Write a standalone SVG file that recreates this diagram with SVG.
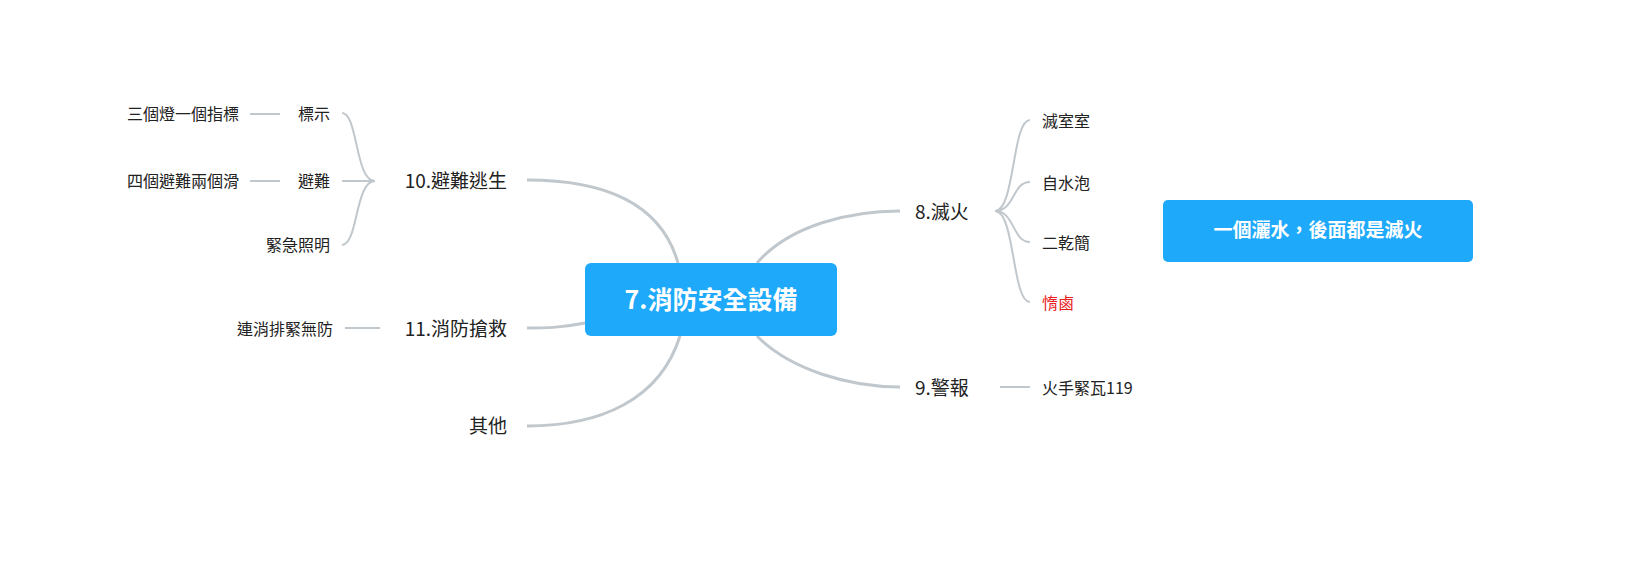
<svg xmlns="http://www.w3.org/2000/svg" width="1645" height="573" viewBox="0 0 1645 573">
<style>
text{font-family:"Noto Sans CJK TC","Noto Sans CJK SC",sans-serif;fill:#222}
.m{stroke:#c1c8cd;stroke-width:3;fill:none}
.s{stroke:#c1c8cd;stroke-width:2;fill:none}
.t1{font-size:19px}
.t2{font-size:16px}
.r{text-anchor:end}
.w{fill:#fff;font-weight:bold;text-anchor:middle}
</style>
<rect width="1645" height="573" fill="#fff"/>
<g id="connectors">
<path class="m" d="M678,263 C660,200 600,180 527,180"/>
<path class="m" d="M585,323 C560,328 545,328 527,328"/>
<path class="m" d="M680,336 C660,400 600,426 527,426"/>
<path class="m" d="M757,263 C790,225 850,211 900,211"/>
<path class="m" d="M757,336 C790,370 850,387 900,387"/>
<path class="s" d="M375,181 C355,181 358,113 342,113"/>
<path class="s" d="M375,181 L342,181"/>
<path class="s" d="M375,181 C355,181 358,245 342,245"/>
<path class="s" d="M250,114 H280 M250,181 H280"/>
<path class="s" d="M345,328 H380"/>
<path class="s" d="M995,211 C1015,211 1012,120 1030,120"/>
<path class="s" d="M995,211 C1015,211 1012,182 1030,182"/>
<path class="s" d="M995,211 C1015,211 1012,242 1030,242"/>
<path class="s" d="M995,211 C1015,211 1012,302 1030,302"/>
<path class="s" d="M1000,387 H1030"/>
</g>
<g id="root"><rect x="585" y="263" width="252" height="73" rx="6" fill="#1fa9fb"/><text class="w" x="711" y="309" font-size="25">7.消防安全設備</text></g>
<g id="n10"><text class="t1 r" x="507" y="188">10.避難逃生</text></g>
<g id="n10a"><text class="t2 r" x="330" y="120">標示</text></g>
<g id="n10a1"><text class="t2 r" x="239" y="120">三個燈一個指標</text></g>
<g id="n10b"><text class="t2 r" x="330" y="187">避難</text></g>
<g id="n10b1"><text class="t2 r" x="239" y="187">四個避難兩個滑</text></g>
<g id="n10c"><text class="t2 r" x="330" y="251">緊急照明</text></g>
<g id="n11"><text class="t1 r" x="507" y="336">11.消防搶救</text></g>
<g id="n11a"><text class="t2 r" x="333" y="335">連消排緊無防</text></g>
<g id="other"><text class="t1 r" x="507" y="433">其他</text></g>
<g id="n8"><text class="t1" x="915" y="219">8.滅火</text></g>
<g id="n8a"><text class="t2" x="1042" y="127">滅室室</text></g>
<g id="n8b"><text class="t2" x="1042" y="189">自水泡</text></g>
<g id="n8c"><text class="t2" x="1042" y="249">二乾簡</text></g>
<g id="n8d"><text class="t2" x="1042" y="309" style="fill:#e8211d">惰鹵</text></g>
<g id="n9"><text class="t1" x="915" y="395">9.警報</text></g>
<g id="n9a"><text class="t2" x="1042" y="394">火手緊瓦119</text></g>
<g id="float"><rect x="1163" y="200" width="310" height="62" rx="5" fill="#1fa9fb"/><text class="w" x="1318" y="237" font-size="19">一個灑水，後面都是滅火</text></g>
</svg>
